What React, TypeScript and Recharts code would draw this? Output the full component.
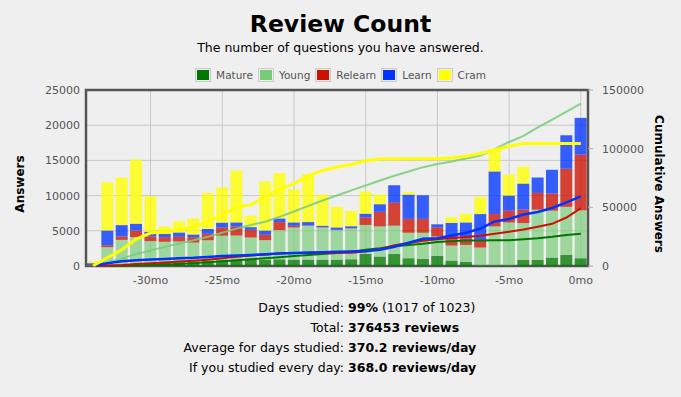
import {
  ComposedChart,
  Bar,
  Line,
  XAxis,
  YAxis,
  CartesianGrid,
  ReferenceArea
} from 'recharts';

// month offsets, oldest first
const months = [
  -34, -33, -32, -31, -30, -29, -28, -27, -26, -25, -24, -23, -22, -21, -20, -19, -18,
  -17, -16, -15, -14, -13, -12, -11, -10, -9, -8, -7, -6, -5, -4, -3, -2, -1, 0
];

const mature = [
  0, 50, 150, 250, 350, 450, 550, 650, 700, 800, 850, 900, 900, 950, 900, 900, 900,
  900, 950, 1700, 1330, 1700, 1100, 1000, 1430, 760, 570, 100, 100, 100, 860, 860, 1190, 1570, 1100
];
const young = [
  100, 2620, 3560, 3850, 3180, 2980, 2930, 2680, 2960, 3510, 3480, 3150, 2770, 4150, 4570, 4810, 4570,
  4200, 4380, 4130, 4290, 4030, 3620, 3720, 2760, 2140, 2430, 2520, 5520, 6090, 5240, 7140, 6670, 6830, 6800
];
const relearn = [
  50, 280, 480, 940, 660, 670, 670, 770, 910, 1140, 1270, 1090, 760, 1140, 240, 50, 50,
  50, 50, 1070, 2070, 3250, 1970, 1970, 1290, 910, 900, 1090, 1760, 1670, 1900, 2380, 2430, 5410, 7910
];
const learn = [
  250, 2090, 1620, 960, 670, 470, 610, 380, 690, 710, 590, 380, 610, 520, 480, 480, 200,
  330, 270, 530, 1090, 2490, 3450, 3360, 440, 2310, 2290, 3670, 6050, 2140, 3710, 2190, 3380, 4760, 5230
];
const cram = [
  250, 6860, 6760, 9140, 5040, 1050, 1590, 2280, 5120, 5000, 7360, 1640, 6980, 6430, 4710, 6810, 4430,
  2920, 2190, 3170, 1360, 0, 380, 0, 0, 800, 1240, 2430, 3140, 3000, 2390, 0, 0, 0, 0
];

const monthTicks = [-30, -25, -20, -15, -10, -5, 0];
const leftTicks = [0, 5000, 10000, 15000, 20000, 25000];
const rightTicks = [0, 50000, 100000, 150000];

const series = [
  { key: 'mature', name: 'Mature', color: '#007700', values: mature },
  { key: 'young', name: 'Young', color: '#77cc77', values: young },
  { key: 'relearn', name: 'Relearn', color: '#cc1100', values: relearn },
  { key: 'learn', name: 'Learn', color: '#0033ff', values: learn },
  { key: 'cram', name: 'Cram', color: '#ffff00', values: cram },
];

const stats = [
  { label: 'Days studied:', value: '99%', extra: ' (1017 of 1023)' },
  { label: 'Total:', value: '376453 reviews', extra: '' },
  { label: 'Average for days studied:', value: '370.2 reviews/day', extra: '' },
  { label: 'If you studied every day:', value: '368.0 reviews/day', extra: '' },
];

// running totals for the cumulative lines
const running: Record<string, number> = {};
const chartData = months.map((m, i) => {
  const row: Record<string, number> = { month: m };
  series.forEach(s => {
    running[s.key] = (running[s.key] || 0) + s.values[i];
    row[s.key] = s.values[i];
    row['cum_' + s.key] = running[s.key];
  });
  return row;
});

const font = '"DejaVu Sans", sans-serif';
const tickStyle = { fontSize: 11, fill: '#545454', fontFamily: font };

const lineWidths: Record<string, number> = {
  mature: 2, young: 2, relearn: 2, learn: 2.5, cram: 3
};

export default function App() {
  return (
    <div style={{
      position: 'absolute', left: 0, top: 0, width: 681, height: 397,
      background: '#efefef', fontFamily: font, overflow: 'hidden'
    }}>
      <div style={{
        position: 'absolute', top: 10, left: 0, width: 681, textAlign: 'center',
        fontSize: 23.5, fontWeight: 'bold', color: '#000'
      }}>
        Review Count
      </div>
      <div style={{
        position: 'absolute', top: 40, left: 0, width: 681, textAlign: 'center',
        fontSize: 12.5, color: '#000'
      }}>
        The number of questions you have answered.
      </div>

      {/* Legend */}
      <div style={{
        position: 'absolute', top: 68, left: 0, width: 681, display: 'flex',
        justifyContent: 'center', alignItems: 'center', fontSize: 10.5, color: '#545454'
      }}>
        {series.map((s, i) => (
          <div key={s.key} style={{ display: 'flex', alignItems: 'center', marginLeft: i ? 5 : 0 }}>
            <div style={{ border: '1px solid #ccc', padding: 1, marginRight: 5 }}>
              <div style={{ width: 12, height: 10, background: s.color }} />
            </div>
            <span>{s.name}</span>
          </div>
        ))}
      </div>

      <div style={{ position: 'absolute', left: 0, top: 0 }}>
        <ComposedChart
          width={681}
          height={397}
          data={chartData}
          margin={{ top: 90, right: 33, bottom: 101, left: 26 }}
        >
          <CartesianGrid
            yAxisId="left"
            stroke="#c8c8c8"
            horizontalValues={leftTicks}
            verticalValues={monthTicks}
          />
          <XAxis
            dataKey="month"
            type="number"
            domain={[-34.5, 0.5]}
            ticks={monthTicks}
            allowDataOverflow
            tickFormatter={(v: number) => `${v}mo`}
            axisLine={false}
            tickLine={false}
            tickSize={0}
            tickMargin={10}
            height={30}
            tick={tickStyle}
          />
          <YAxis
            yAxisId="left"
            domain={[0, 25000]}
            ticks={leftTicks}
            width={60}
            axisLine={false}
            tickLine={false}
            tickSize={0}
            tickMargin={6}
            tick={tickStyle}
          />
          <YAxis
            yAxisId="right"
            orientation="right"
            domain={[0, 150000]}
            ticks={rightTicks}
            width={60}
            axisLine={false}
            tickLine={{ stroke: '#b0b0b0' }}
            tickSize={5}
            tickMargin={9}
            tick={tickStyle}
          />
          {series.map(s => (
            <Bar
              key={s.key}
              yAxisId="left"
              dataKey={s.key}
              stackId="a"
              barSize={12}
              fill={s.color}
              fillOpacity={s.key === 'young' ? 0.68 : 0.78}
              isAnimationActive={false}
            />
          ))}
          {series.map(s => (
            <Line
              key={'cum_' + s.key}
              yAxisId="right"
              type="linear"
              dataKey={'cum_' + s.key}
              stroke={s.color}
              strokeOpacity={s.key === 'young' ? 0.85 : 1}
              strokeWidth={lineWidths[s.key]}
              dot={false}
              isAnimationActive={false}
            />
          ))}
          <ReferenceArea
            yAxisId="left"
            x1={-34.5}
            x2={0.5}
            y1={0}
            y2={25000}
            fill="none"
            stroke="#555555"
            strokeWidth={2.5}
            ifOverflow="visible"
          />
        </ComposedChart>
      </div>

      {/* Axis titles */}
      <div style={{
        position: 'absolute', left: 20, top: 184, transform: 'translate(-50%, -50%) rotate(-90deg)',
        fontSize: 12, fontWeight: 'bold', color: '#000', whiteSpace: 'nowrap'
      }}>
        Answers
      </div>
      <div style={{
        position: 'absolute', left: 659, top: 184, transform: 'translate(-50%, -50%) rotate(90deg)',
        fontSize: 12, fontWeight: 'bold', color: '#000', whiteSpace: 'nowrap'
      }}>
        Cumulative Answers
      </div>

      {/* Summary */}
      <div style={{ position: 'absolute', top: 298, left: 0, width: 681, fontSize: 12.5, color: '#000' }}>
        {stats.map(r => (
          <div key={r.label} style={{ display: 'flex', height: 20, lineHeight: '20px' }}>
            <div style={{ width: 344, textAlign: 'right', paddingRight: 4 }}>{r.label}</div>
            <div>
              <b>{r.value}</b>{r.extra}
            </div>
          </div>
        ))}
      </div>
    </div>
  );
}
